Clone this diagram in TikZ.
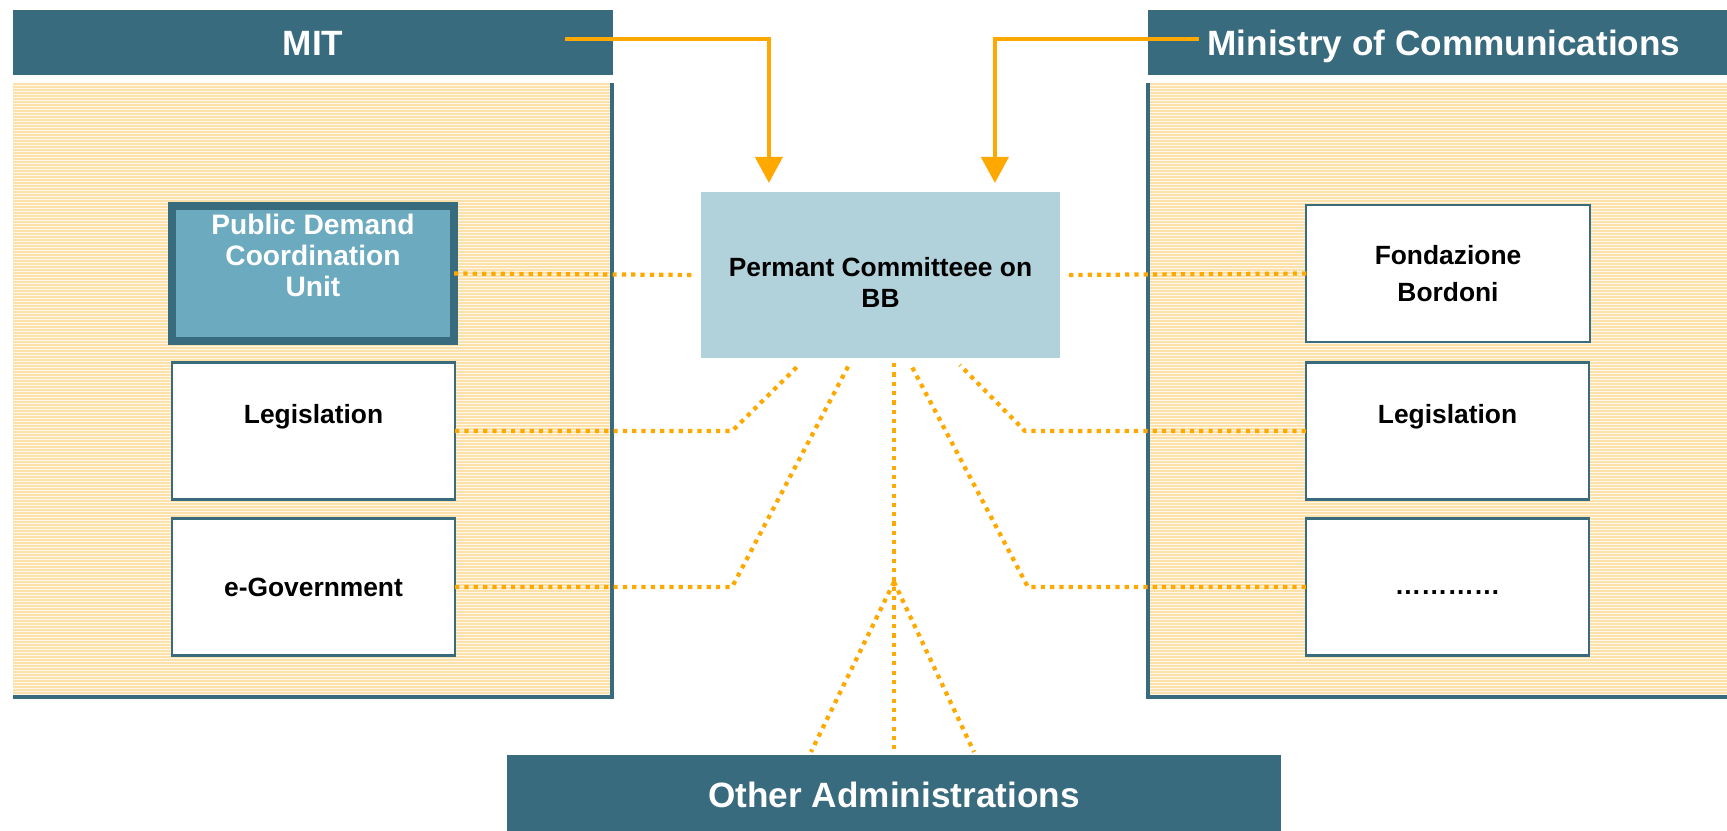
\documentclass[tikz,border=0pt]{standalone}
\usepackage{fontspec}
\setmainfont{Liberation Sans}
\usepackage{xcolor}
\usetikzlibrary{arrows.meta,calc}

\definecolor{headteal}{HTML}{386B7D}
\definecolor{unitblue}{HTML}{6CAABF}
\definecolor{commblue}{HTML}{B1D1DB}
\definecolor{linkorange}{HTML}{FFA800}
\definecolor{stripe}{HTML}{FCE2AA}
\definecolor{paper}{HTML}{FFF8EA}

\tikzset{
  header/.style={fill=headteal, text=white, font=\fontsize{10}{12}\selectfont\bfseries,
    text height=0.72em, text depth=0pt, inner sep=0pt, outer sep=0pt},
  unitbox/.style={draw=headteal, line width=0.6pt, fill=white, align=center,
    font=\fontsize{7.5}{8.8}\selectfont\bfseries, inner sep=0pt, outer sep=0pt,
    minimum width=2.83cm, minimum height=1.37cm},
  boxtext/.style={font=\fontsize{7.5}{8.8}\selectfont\bfseries, align=center},
  dotline/.style={linkorange, line width=1.2pt, dash pattern=on 1.2pt off 1.45pt},
  orarrow/.style={linkorange, line width=1.15pt, -{Triangle[length=7.4pt,width=7.7pt]}},
}

\begin{document}
\begin{tikzpicture}[x=0.01cm, y=-0.01cm]
  \useasboundingbox (0,0) rectangle (1727,830);

  % striped panels
  \fill[paper] (13,83) rectangle (611,697);
  \fill[paper] (1150,83) rectangle (1727,697);
  \foreach \y in {84,87,...,696} {
    \draw[stripe, line width=0.4pt] (13,\y) -- (611,\y);
    \draw[stripe, line width=0.4pt] (1150,\y) -- (1727,\y);
  }
  \draw[headteal, line width=1.1pt] (612,83) -- (612,697) -- (13,697);
  \draw[headteal, line width=1.1pt] (1148,83) -- (1148,697) -- (1727,697);

  % headers
  \node[header, minimum width=6cm, minimum height=0.65cm] (mit) at (313,42.5) {MIT};
  \node[header, minimum width=5.92cm, minimum height=0.65cm] (moc) at (1444,42.5) {Ministry of Communications};
  \node[header, minimum width=7.74cm, minimum height=0.8cm] (oth) at (894,795) {Other Administrations};

  % MIT units
  \node[unitbox, fill=unitblue, line width=2.3pt, minimum width=2.82cm, minimum height=1.35cm,
    label={[boxtext, text=white, font=\fontsize{8}{8.8}\selectfont\bfseries, yshift=0.18cm]center:Public Demand\\Coordination\\Unit}]
    (pdu) at (313,273.5) {};
  \node[unitbox, label={[boxtext, yshift=0.145cm]center:Legislation}] (legl) at (313.5,431) {};
  \node[unitbox] (egov) at (313.5,587) {e-Government};

  % committee
  \node[fill=commblue, inner sep=0pt, outer sep=0pt, minimum width=3.59cm, minimum height=1.66cm,
    label={[boxtext, yshift=-0.07cm]center:Permant Committeee on\\BB}]
    (cbb) at (880.5,275) {};

  % Ministry units
  \node[unitbox, font=\fontsize{7.5}{10.3}\selectfont\bfseries] (fub) at (1448,273.5) {Fondazione\\Bordoni};
  \node[unitbox, label={[boxtext, yshift=0.145cm]center:Legislation}] (legr) at (1447.5,431) {};
  \node[unitbox, label={[boxtext, yshift=-0.06cm]center:…………}] (etc) at (1447.5,587) {};

  % arrows into the committee
  \coordinate (mitout) at (565,39);
  \coordinate (mocout) at (1199,39);
  \draw[orarrow, shorten >=0.09cm] (mitout) -| ($(cbb.north west)+(68,0)$);
  \draw[orarrow, shorten >=0.09cm] (mocout) -| ($(cbb.north west)+(294,0)$);

  % dotted links
  \draw[dotline, shorten >=0.06cm] (pdu.east) -- (cbb.west);
  \draw[dotline, shorten <=0.09cm] (cbb.east) -- (fub.west);
  \draw[dotline] (legl.east) -- ++(277,0) -- ($(cbb.south west)+(98,7)$);
  \draw[dotline] (egov.east) -- ++(277,0) -- ($(cbb.south west)+(149,5)$);
  \draw[dotline] (legr.west) -- ++(-281,0) -- ($(cbb.south west)+(259,7)$);
  \draw[dotline] (etc.west) -- ++(-278,0) -- ($(cbb.south west)+(209,5)$);
  \draw[dotline, shorten <=0.05cm, shorten >=0.03cm] (cbb.south -| oth.north) -- (oth.north);
  \coordinate (fork) at (894,582);
  \draw[dotline] (fork) -- ($(oth.north)+(-83,-3)$);
  \draw[dotline] (fork) -- ($(oth.north)+(80,-3)$);
\end{tikzpicture}
\end{document}
